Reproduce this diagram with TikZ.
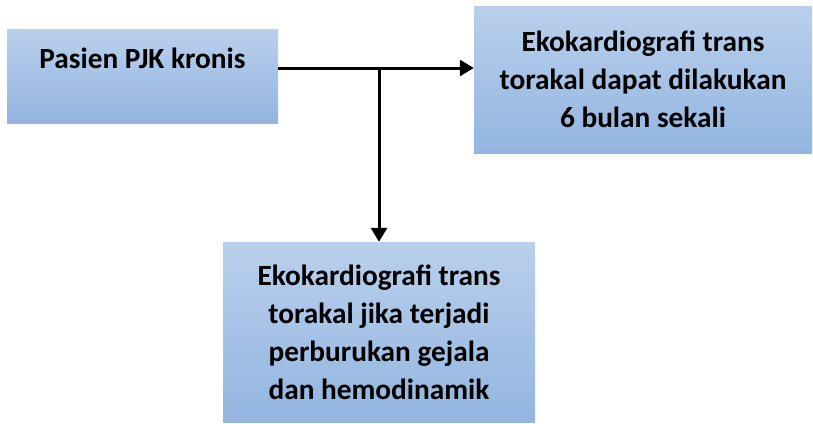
\documentclass[tikz,border=0pt]{standalone}
\usepackage{fontspec}
\setmainfont{Carlito}
\usetikzlibrary{arrows.meta, positioning, calc}
\definecolor{ctop}{HTML}{B9D0EC}
\definecolor{cbottom}{HTML}{93B5E0}
\tikzset{
  every picture/.style={x=1pt, y=1pt},
  box/.style={top color=ctop, bottom color=cbottom, draw=none, align=center, inner sep=0pt,
    font=\fontsize{29.3}{38}\selectfont\bfseries},
  arrow/.style={-{Triangle[length=14pt, width=16pt]}, draw=black, line width=3pt},
}
\begin{document}
\begin{tikzpicture}
  \useasboundingbox (0,0) rectangle (813,-423);
  \node[box, minimum width=271pt, text height=39pt, text depth=55pt, anchor=base] (pasien) at (142.5,-68) {Pasien PJK kronis};
  \node[box, minimum width=338pt, minimum height=147pt] (rutin) at (643,-79.5) {Ekokardiografi trans\\torakal dapat dilakukan\\6 bulan sekali};
  \node[box, minimum width=312pt, minimum height=180pt] (buruk) at (379,-332) {Ekokardiografi trans\\torakal jika terjadi\\perburukan gejala\\dan hemodinamik};
  \coordinate (cabang) at (buruk.north |- pasien.base east);
  \draw[arrow] (pasien.base east) -- (pasien.base east -| rutin.west);
  \draw[arrow] (cabang) -- (buruk.north);
\end{tikzpicture}
\end{document}
